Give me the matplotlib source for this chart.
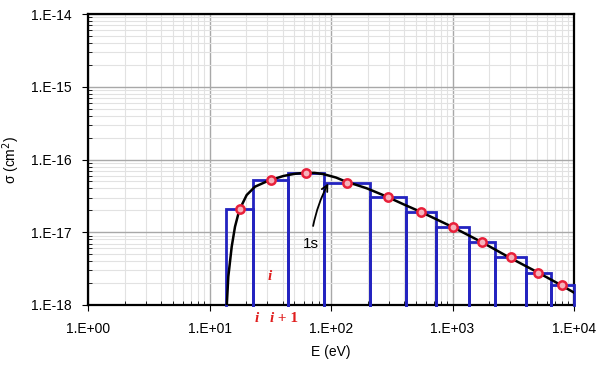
import math
import matplotlib.pyplot as plt
from matplotlib.ticker import LogLocator, FuncFormatter, NullFormatter

plt.rcParams['font.family'] = ['Liberation Sans', 'DejaVu Sans']

# cross section curve
curve_E = [13.6, 13.9, 14.28, 15.23, 16.21, 17.6, 20.23, 23.69, 30.48, 40.5, 50,
           60.3, 73, 86.4, 110, 135, 160, 196.7, 283.7, 400, 550, 990, 1750, 2917,
           5026, 7709, 10000]
curve_sig = [1e-19, 1.05e-18, 2.45e-18, 6.33e-18, 1.19e-17, 2.02e-17, 3.25e-17,
             4.23e-17, 5.11e-17, 5.93e-17, 6.35e-17, 6.55e-17, 6.55e-17, 6.3e-17,
             5.65e-17, 4.9e-17, 4.5e-17, 4.02e-17, 3.12e-17, 2.4e-17, 1.9e-17,
             1.19e-17, 7.28e-18, 4.53e-18, 2.81e-18, 1.90e-18, 1.48e-18]

# energy bins
bin_edges = [13.8, 23.0, 44.1, 87.2, 209, 411, 738, 1364, 2242, 4042, 6430, 10000]
bin_sig = [2.07e-17, 5.23e-17, 6.59e-17, 4.75e-17, 3.10e-17, 1.88e-17,
           1.19e-17, 7.28e-18, 4.53e-18, 2.73e-18, 1.88e-18]

ymin = 1e-18
blue = '#2323c0'

fig = plt.figure(figsize=(5.97, 3.65), dpi=100)
ax = fig.add_axes([0.1474, 0.1644, 0.8141, 0.7972])

ax.set_xscale('log')
ax.set_yscale('log')
ax.set_xlim(1, 1e4)
ax.set_ylim(1e-18, 1e-14)

# bins as open bars
for lo, hi, s in zip(bin_edges[:-1], bin_edges[1:], bin_sig):
    ax.plot([lo, lo, hi, hi], [ymin, s, s, ymin], color=blue, lw=2, zorder=3,
            solid_joinstyle='miter', clip_on=False)

ax.plot(curve_E, curve_sig, color='black', lw=1.8, zorder=4)

centers = [(lo * hi) ** 0.5 for lo, hi in zip(bin_edges[:-1], bin_edges[1:])]
ax.plot(centers, bin_sig, 'o', ms=6, mfc='#f6b3bb', mec='#e8203a', mew=1.8, zorder=5)

ax.annotate('1s', xy=(95, 4.7e-17), xytext=(67.8, 6.9e-18), fontsize=11,
            ha='center', va='center',
            arrowprops=dict(arrowstyle='->', color='black', lw=1.3,
                            connectionstyle='arc3,rad=-0.1', shrinkA=6, shrinkB=0))

red = '#e01e1e'
y_under = 10 ** (-18 - 13.3 / 72.75)
ax.text(31.5, 2.45e-18, 'i', color=red, fontsize=11, family='Liberation Serif',
        style='italic', weight='bold', ha='center', va='center')
ax.text(24.4, y_under, 'i', color=red, fontsize=11,
        family='Liberation Serif', style='italic', weight='bold',
        ha='center', va='center', clip_on=False)
ax.text(33.9, y_under, 'i', color=red, fontsize=11,
        family='Liberation Serif', style='italic', weight='bold',
        ha='right', va='center', clip_on=False)
ax.text(33.9, y_under, ' + 1', color=red, fontsize=11,
        family='Liberation Serif', weight='bold',
        ha='left', va='center', clip_on=False)

# grid and ticks
ax.xaxis.set_major_locator(LogLocator(base=10, numticks=10))
ax.yaxis.set_major_locator(LogLocator(base=10, numticks=10))
ax.xaxis.set_minor_locator(LogLocator(base=10, subs=range(2, 10), numticks=20))
ax.yaxis.set_minor_locator(LogLocator(base=10, subs=range(2, 10), numticks=20))
fmt = FuncFormatter(lambda v, p: '1.E%+03d' % round(math.log10(v)))
ax.xaxis.set_major_formatter(fmt)
ax.yaxis.set_major_formatter(fmt)
ax.xaxis.set_minor_formatter(NullFormatter())
ax.yaxis.set_minor_formatter(NullFormatter())
ax.grid(True, which='major', color='#a8a8a8', lw=1.0)
ax.grid(True, which='minor', color='#e2e2e2', lw=0.8)
ax.set_axisbelow(True)
ax.tick_params(which='major', direction='out', length=4, labelsize=10, pad=8)
ax.tick_params(which='minor', direction='in', length=3)
for sp in ax.spines.values():
    sp.set_linewidth(1.6)

ax.set_xlabel('E (eV)', fontsize=10, labelpad=7)
ax.set_ylabel('σ (cm$^2$)', fontsize=10, labelpad=6)

fig.savefig('out.png', dpi=100)
